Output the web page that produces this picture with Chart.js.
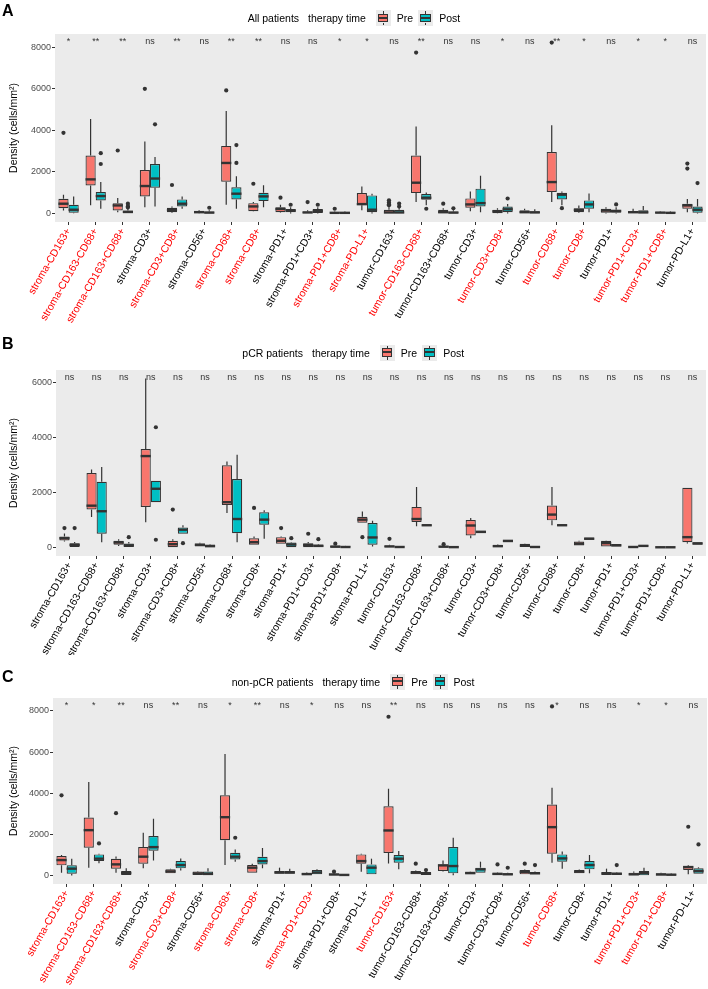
<!DOCTYPE html>
<html>
<head>
<meta charset="utf-8">
<script src="https://cdn.jsdelivr.net/npm/chart.js@4.4.0/dist/chart.umd.min.js"></script>
<style>
body { margin: 0; background: #fff; font-family: "Liberation Sans", Arial, sans-serif; }
#wrap { position: relative; width: 708px; height: 989px; overflow: hidden; }
canvas { position: absolute; left: 0; }
.tag { position: absolute; left: 2px; font-weight: bold; font-size: 16px; line-height: 1; }
.leg { position: absolute; display: flex; align-items: center; height: 16px; font-size: 10.5px; color: #000; white-space: nowrap; }
.key { position: relative; width: 15px; height: 16px; background: #EBEBEB; }
.key::before, .key::after { content: ""; position: absolute; left: 7px; width: 1.2px; background: #333; }
.key::before { top: 1px; height: 2.5px; }
.key::after { bottom: 1px; height: 2.5px; }
.key i { position: absolute; left: 2px; top: 3.5px; width: 8.6px; height: 6.6px; border: 1.2px solid #333; }
.key i::after { content: ""; position: absolute; left: 0; right: 0; top: 2.3px; height: 2px; background: #333; }
</style>
</head>
<body>
<div id="wrap">
  <canvas id="cA" width="708" height="330" style="top:0px"></canvas>
  <canvas id="cB" width="708" height="325" style="top:330px"></canvas>
  <canvas id="cC" width="708" height="334" style="top:655px"></canvas>
  <div class="tag" style="top:3px">A</div>
  <div class="tag" style="top:336px">B</div>
  <div class="tag" style="top:669px">C</div>
</div>
<script>
var categories = ["stroma-CD163+", "stroma-CD163-CD68+", "stroma-CD163+CD68+", "stroma-CD3+",
  "stroma-CD3+CD8+", "stroma-CD56+", "stroma-CD68+", "stroma-CD8+", "stroma-PD1+", "stroma-PD1+CD3+",
  "stroma-PD1+CD8+", "stroma-PD-L1+", "tumor-CD163+", "tumor-CD163-CD68+", "tumor-CD163+CD68+",
  "tumor-CD3+", "tumor-CD3+CD8+", "tumor-CD56+", "tumor-CD68+", "tumor-CD8+", "tumor-PD1+",
  "tumor-PD1+CD3+", "tumor-PD1+CD8+", "tumor-PD-L1+"];

// [min, q1, median, q3, max] per category
var allPre = [[145,256,469,710,900],[390,1350,1640,2790,4540],[60,145,386,497,740],[300,820,1320,2090,3460],
  [20,63,170,275,330],[0,14,63,111,150],[420,1530,2430,3250,4930],[100,111,338,497,550],
  [30,63,217,304,420],[0,0,48,97,150],[0,0,30,63,100],[150,390,450,980,1300],
  [0,0,48,180,300],[550,980,1480,2790,4190],[0,0,60,180,250],[110,275,435,724,1060],
  [0,15,100,180,250],[0,0,60,150,227],[550,1030,1510,2960,4250],[20,63,170,256,386],
  [0,34,140,227,300],[0,0,60,111,227],[0,0,40,70,100],[63,227,386,469,700]];
var allPreOut = [[3880],[],[3030],[6000],[1370],[],[5920],[1430],[760],[546],[227],[],
  [390,440,530,630],[7740],[470],[],[],[],[8225],[],[],[],[],[2160,2400]];
var allPost = [[10,34,179,420,820],[227,628,836,1030,1512],[0,0,72,145,240],[340,1240,1680,2380,2720],
  [227,338,469,676,821],[0,0,40,97,150],[227,676,951,1256,1787],[304,594,821,1000,1352],
  [0,63,140,217,300],[0,24,120,217,300],[0,0,30,63,100],[0,63,180,870,950],
  [0,0,48,180,300],[400,662,758,932,1014],[0,0,40,100,150],[63,338,497,1193,1820],
  [0,63,200,338,450],[0,0,50,110,200],[400,676,903,1000,1060],[63,227,435,628,960],
  [0,34,120,180,300],[0,0,50,150,353],[0,0,30,70,100],[0,34,180,338,700]];
var allPostOut = [[],[2380,2900],[290,350,470],[4290],[],[275],[2430,3290],[],[420],[420],[],[],
  [340,480],[227],[250],[],[720],[],[256],[],[435],[],[],[1464]];
var allSig = ["*","**","**","ns","**","ns","**","**","ns","ns","*","*",
  "ns","**","ns","ns","*","ns","**","*","ns","*","*","ns"];

var pcrPre = [[220,256,340,403,512],[1110,1380,1520,2708,2830],[60,99,183,245,300],[915,1475,3320,3575,6138],
  [11,11,121,245,300],[37,37,100,146,170],[1255,1548,1647,2990,3122],[99,99,194,340,400],
  [135,135,245,377,400],[11,11,90,157,200],[0,0,30,70,70],[900,900,1013,1120,1306],
  [0,0,40,73,100],[769,926,1036,1475,2196],[0,0,30,62,80],[340,440,800,1000,1074],
  [0,0,50,99,120],[0,0,70,135,150],[805,988,1196,1526,2196],[73,73,140,220,250],
  [37,37,160,245,260],[0,0,20,40,50],[0,0,10,30,40],[150,194,377,2170,2170]];
var pcrPreOut = [[706],[],[],[],[1380],[],[],[1438],[706],[500],[140],[377],
  [318],[],[121],[],[],[],[],[],[],[],[],[]];
var pcrPost = [[0,0,99,157,200],[194,500,1318,2390,2928],[0,0,80,146,200],[1647,1647,2134,2427,2427],
  [500,500,648,732,805],[0,0,50,110,130],[194,523,1036,2489,3367],[318,830,1013,1281,1354],
  [11,11,110,183,200],[0,0,60,110,130],[0,0,20,50,60],[37,99,366,890,977],
  [0,0,20,40,50],[790,790,810,830,830],[0,0,15,30,40],[520,520,570,610,610],
  [194,194,240,282,282],[0,0,20,40,50],[790,790,810,830,830],[282,282,320,366,366],
  [37,37,80,125,130],[30,30,60,90,90],[0,0,10,30,40],[99,99,150,194,194]];
var pcrPostOut = [[706],[],[377],[282,4366],[157],[],[],[],[340],[305],[],[],
  [],[],[],[],[],[],[],[],[],[],[],[]];
var pcrSig = ["ns","ns","ns","ns","ns","ns","ns","ns","ns","ns","ns","ns",
  "ns","ns","ns","ns","ns","ns","ns","ns","ns","ns","ns","ns"];

var nonPre = [[141,495,752,946,1000],[383,1353,2207,2823,4554],[141,335,543,820,930],[350,577,917,1382,2081],
  [107,107,200,301,330],[24,24,100,200,220],[509,1722,2837,3904,5912],[141,141,383,509,577],
  [92,92,150,218,383],[24,24,70,141,160],[0,0,50,100,120],[189,577,703,1028,1062],
  [590,1100,2192,3371,4214],[58,58,140,218,250],[200,218,495,543,737],[58,58,120,189,200],
  [24,24,80,140,160],[58,58,180,267,300],[626,1062,2353,3453,4263],[107,107,189,267,300],
  [24,24,100,170,335],[10,10,60,140,200],[0,0,50,110,130],[58,267,412,462,500]];
var nonPreOut = [[3900],[],[3030],[],[],[],[],[],[],[],[189],[],
  [7721],[577],[],[],[543],[577],[8221],[],[],[],[],[2372]];
var nonPost = [[0,92,335,495,820],[592,703,820,1028,1062],[24,24,120,218,350],[737,1208,1382,1917,2760],
  [250,350,509,703,834],[0,0,80,200,350],[674,786,917,1110,1270],[350,543,703,917,1334],
  [92,92,150,218,335],[58,58,150,267,301],[0,0,30,60,80],[58,58,383,543,820],
  [301,626,820,994,1188],[0,0,90,170,200],[20,107,462,1382,1838],[141,141,301,383,674],
  [0,0,60,110,130],[58,58,110,170,200],[335,674,834,1028,1170],[107,301,509,703,994],
  [24,24,90,140,160],[10,10,120,218,383],[0,0,40,90,110],[92,92,218,350,400]];
var nonPostOut = [[],[1562],[],[],[],[],[1838],[],[],[],[],[],
  [],[267],[],[],[380],[509],[],[],[509],[],[],[1513]];
var nonSig = ["*","*","**","ns","**","ns","*","**","ns","*","ns","ns",
  "**","ns","ns","ns","ns","ns","*","ns","ns","*","*","ns"];

var ticks8000 = [0, 2000, 4000, 6000, 8000];
var ticks6000 = [0, 2000, 4000, 6000];

Chart.defaults.font.family = '"Liberation Sans", Arial, sans-serif';

var boxPlugin = {
  id: "boxes",
  beforeDraw: function(chart) {
    var a = chart.chartArea, c = chart.ctx;
    c.save();
    c.fillStyle = "#EBEBEB";
    c.fillRect(a.left, a.top, a.right - a.left, a.bottom - a.top);
    c.restore();
  },
  afterDatasetsDraw: function(chart, args, opts) {
    var c = chart.ctx, y = chart.scales.y, x = chart.scales.x;
    chart.data.datasets.forEach(function(ds, di) {
      chart.getDatasetMeta(di).data.forEach(function(bar, i) {
        var s = ds.stats[i];
        var half = bar.width / 2;
        c.save();
        c.strokeStyle = "#333";
        c.lineWidth = 1.2;
        c.beginPath();
        c.moveTo(bar.x, y.getPixelForValue(s[3]));
        c.lineTo(bar.x, y.getPixelForValue(s[4]));
        c.moveTo(bar.x, y.getPixelForValue(s[1]));
        c.lineTo(bar.x, y.getPixelForValue(s[0]));
        c.stroke();
        c.lineWidth = 2.4;
        c.beginPath();
        c.moveTo(bar.x - half, y.getPixelForValue(s[2]));
        c.lineTo(bar.x + half, y.getPixelForValue(s[2]));
        c.stroke();
        c.fillStyle = "#333";
        ds.outliers[i].forEach(function(v) {
          c.beginPath();
          c.arc(bar.x, y.getPixelForValue(v), 2.1, 0, Math.PI * 2);
          c.fill();
        });
        c.restore();
      });
    });
    // significance marks
    c.save();
    c.fillStyle = "#333";
    c.font = '9px "Liberation Sans", Arial, sans-serif';
    c.textAlign = "center";
    c.textBaseline = "alphabetic";
    opts.sig.forEach(function(t, i) {
      c.fillText(t, x.getPixelForValue(i), chart.chartArea.top + 9.5);
    });
    c.restore();
  }
};

function addLegend(top, left, title) {
  var d = document.createElement("div");
  d.className = "leg";
  d.style.top = (top - 8) + "px";
  d.style.left = left + "px";
  d.innerHTML = '<span>' + title + '</span>' +
    '<span style="margin-left:9px">therapy time</span>' +
    '<span class="key" style="margin-left:10px"><i style="background:#F8766D"></i></span>' +
    '<span style="margin-left:6px">Pre</span>' +
    '<span class="key" style="margin-left:5px"><i style="background:#00BFC4"></i></span>' +
    '<span style="margin-left:6px">Post</span>';
  document.getElementById("wrap").appendChild(d);
}

function makePanel(id, pre, preOut, post, postOut, sig, yMin, yMax, yTicks, padTop, padRight, yW, xH) {
  new Chart(document.getElementById(id), {
    type: "bar",
    data: {
      labels: categories,
      datasets: [
        { label: "Pre", data: pre.map(function(s) { return [s[1], s[3]]; }), stats: pre, outliers: preOut,
          backgroundColor: "#F8766D", borderColor: "#333", borderWidth: 1.2, borderSkipped: false },
        { label: "Post", data: post.map(function(s) { return [s[1], s[3]]; }), stats: post, outliers: postOut,
          backgroundColor: "#00BFC4", borderColor: "#333", borderWidth: 1.2, borderSkipped: false }
      ]
    },
    options: {
      responsive: false,
      animation: false,
      events: [],
      categoryPercentage: 0.75,
      barPercentage: 1,
      layout: { padding: { top: padTop, right: padRight, left: 0, bottom: 0 } },
      plugins: { legend: { display: false }, tooltip: { enabled: false }, boxes: { sig: sig } },
      scales: {
        x: {
          grid: { drawOnChartArea: false, offset: false, tickLength: 3, color: "#333" },
          border: { display: false },
          ticks: {
            autoSkip: false, minRotation: 60, maxRotation: 60, padding: 1,
            font: { size: 10.5 },
            color: function(ctx) { return sig[ctx.index] === "ns" ? "#000" : "#FF0000"; }
          },
          afterFit: function(s) { s.height = xH; }
        },
        y: {
          min: yMin, max: yMax,
          afterBuildTicks: function(s) { s.ticks = yTicks.map(function(v) { return { value: v }; }); },
          grid: { drawOnChartArea: false, tickLength: 3, color: "#333" },
          border: { display: false },
          ticks: { color: "#4D4D4D", font: { size: 9 }, padding: 1,
            callback: function(v) { return String(v); } },
          title: { display: true, text: "Density (cells/mm²)", color: "#000", font: { size: 10.5 }, padding: { top: 8, bottom: 0 } },
          afterFit: function(s) { s.width = yW; }
        }
      }
    },
    plugins: [boxPlugin]
  });
}

makePanel("cA", allPre, allPreOut, allPost, allPostOut, allSig, -411, 8636, ticks8000, 34, 2, 55, 108);
makePanel("cB", pcrPre, pcrPreOut, pcrPost, pcrPostOut, pcrSig, -307, 6445, ticks6000, 40, 2, 56, 99);
makePanel("cC", nonPre, nonPreOut, nonPost, nonPostOut, nonSig, -411, 8632, ticks8000, 43, 1, 53, 105);

addLegend(18, 247.7, "All patients");
addLegend(352.7, 242.3, "pCR patients");
addLegend(681.7, 231.7, "non-pCR patients");
</script>
</body>
</html>
